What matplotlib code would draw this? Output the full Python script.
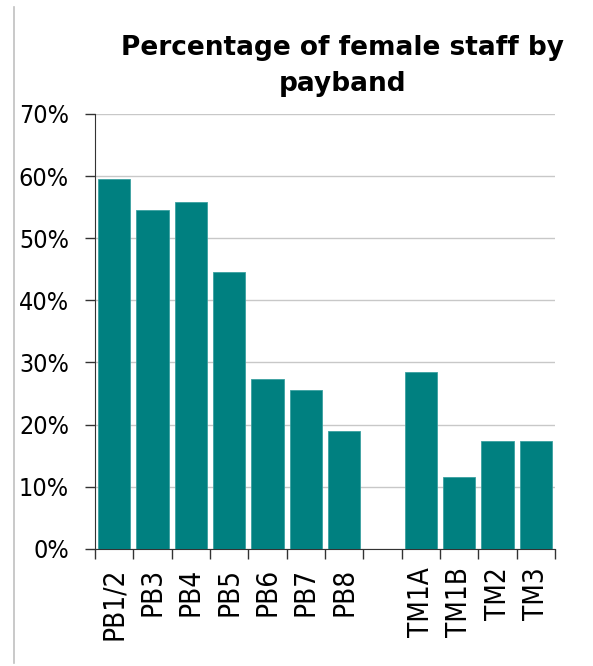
import numpy as np
import matplotlib.pyplot as plt
from matplotlib import font_manager
from matplotlib.lines import Line2D
from matplotlib.ticker import FixedLocator

# data
bands = ['PB1/2', 'PB3', 'PB4', 'PB5', 'PB6', 'PB7', 'PB8', '',
         'TM1A', 'TM1B', 'TM2', 'TM3']
female_pct = [59.5, 54.6, 55.8, 44.6, 27.3, 25.5, 19.0, np.nan,
              28.5, 11.6, 17.3, 17.4]

# narrow face for tick labels if there is one, else plain DejaVu a bit smaller
fonts = font_manager.fontManager.ttflist
narrow = [f for f in fonts if 'Narrow' in f.name or 'Condensed' in f.name
          or (f.name == 'DejaVu Sans' and 'condensed' in str(f.stretch))]
if narrow:
    tick_font = narrow[0].name
    tick_stretch = 'condensed'
    ysize, xsize = 18, 20
else:
    tick_font = 'DejaVu Sans'
    tick_stretch = 'normal'
    ysize, xsize = 15.5, 17

fig = plt.figure(figsize=(5.93, 6.66), dpi=100)
ax = fig.add_axes([0.160, 0.176, 0.776, 0.653])

x = np.arange(len(bands))
ax.bar(x, female_pct, width=0.84, color='#008080', edgecolor='#3aa0a0',
       linewidth=0.6, zorder=3)

ax.set_xlim(-0.5, len(bands) - 0.5)
ax.set_ylim(0, 70)
ax.set_yticks(np.arange(0, 71, 10))
ax.set_yticklabels([f'{v}%' for v in range(0, 71, 10)], family=tick_font,
                   fontstretch=tick_stretch, fontsize=ysize)
ax.grid(axis='y', color='#c8c8c8', linewidth=1, zorder=0)

ax.set_xticks(x)
ax.set_xticklabels(bands, rotation=90, fontsize=xsize,
                   family=tick_font, fontstretch=tick_stretch)
ax.tick_params(axis='x', which='major', length=0, pad=13.5)
ax.xaxis.set_minor_locator(FixedLocator(np.arange(-0.5, len(bands), 1)))
ax.tick_params(axis='x', which='minor', length=7.2, width=1, color='#333333')
ax.tick_params(axis='y', length=7.2, width=1, pad=11.5, color='#333333')

for s in ['top', 'right']:
    ax.spines[s].set_visible(False)
for s in ['left', 'bottom']:
    ax.spines[s].set_color('#333333')

fig.text(0.578, 1 - 55 / 666, 'Percentage of female staff by', ha='center',
         va='baseline', fontsize=19, fontweight='bold')
fig.text(0.578, 1 - 91 / 666, 'payband', ha='center',
         va='baseline', fontsize=19, fontweight='bold')

# thin grey frame line on the left
fig.add_artist(Line2D([14 / 593, 14 / 593], [1 - 663 / 666, 1 - 7 / 666],
                      color='#c0c0c0', linewidth=1.2))

fig.savefig('out.png', dpi=100)
